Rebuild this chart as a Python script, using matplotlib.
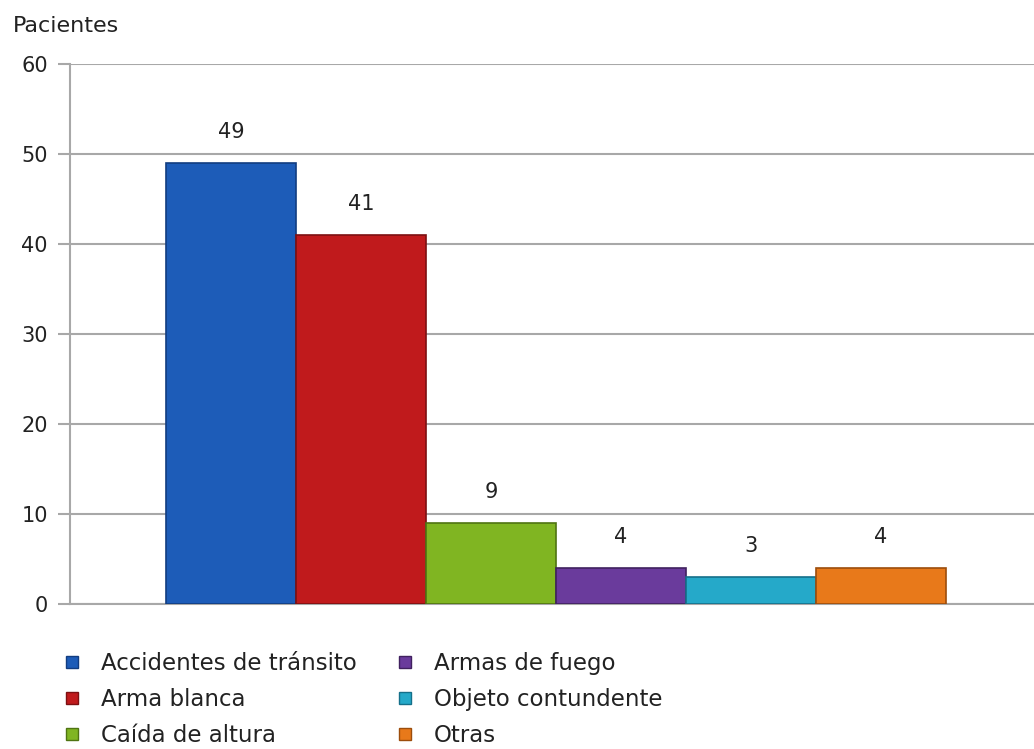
import matplotlib.pyplot as plt
from matplotlib.lines import Line2D

categorias = ["Accidentes de tránsito", "Arma blanca", "Caída de altura",
              "Armas de fuego", "Objeto contundente", "Otras"]
pacientes = [49, 41, 9, 4, 3, 4]
colores = ["#1d5cb8", "#c01a1c", "#80b522", "#6a3b9c", "#25a9c9", "#e8791a"]
bordes = ["#123d80", "#7d1012", "#4f7412", "#40215f", "#15708a", "#9c4d0c"]
yticks = [0, 10, 20, 30, 40, 50, 60]

fig = plt.figure(figsize=(10.34, 7.49), dpi=100)
ax = fig.add_axes([70/1034, 1-604/749, 1-70/1034, (604-64)/749])

x = range(len(pacientes))
ax.bar(x, pacientes, width=1.0, color=colores, edgecolor=bordes, linewidth=1.2, zorder=3)
for xi, v in zip(x, pacientes):
    ax.text(xi, v + 3.4, str(v), ha="center", va="center", fontsize=15, color="#222222")

ax.set_xlim(-1.238, 6.177)
ax.set_ylim(0, 60)
ax.set_yticks(yticks)
ax.set_xticks([])
ax.grid(axis="y", color="#a8a8a8", linewidth=1.5, zorder=0)
for s in ["top", "right"]:
    ax.spines[s].set_visible(False)
for s in ["left", "bottom"]:
    ax.spines[s].set_color("#a8a8a8")
    ax.spines[s].set_linewidth(1.5)
ax.tick_params(axis="y", length=9, width=1.5, color="#a8a8a8", labelsize=15,
               labelcolor="#222222", pad=7)

fig.text(13/1034, 1-26/749, "Pacientes", fontsize=16, color="#222222", va="center", ha="left")

handles = [Line2D([], [], marker="s", linestyle="", markersize=8.6,
                  markerfacecolor=c, markeredgecolor=b) for c, b in zip(colores, bordes)]
fig.legend(handles, categorias, ncol=2, loc="upper left", bbox_to_anchor=(61/1034, 1-652/749),
           frameon=False, fontsize=16.5, handletextpad=0.75, columnspacing=1.6,
           labelspacing=0.57, handlelength=1.0, borderpad=0, borderaxespad=0,
           labelcolor="#222222")

fig.savefig("out.png", dpi=100)
